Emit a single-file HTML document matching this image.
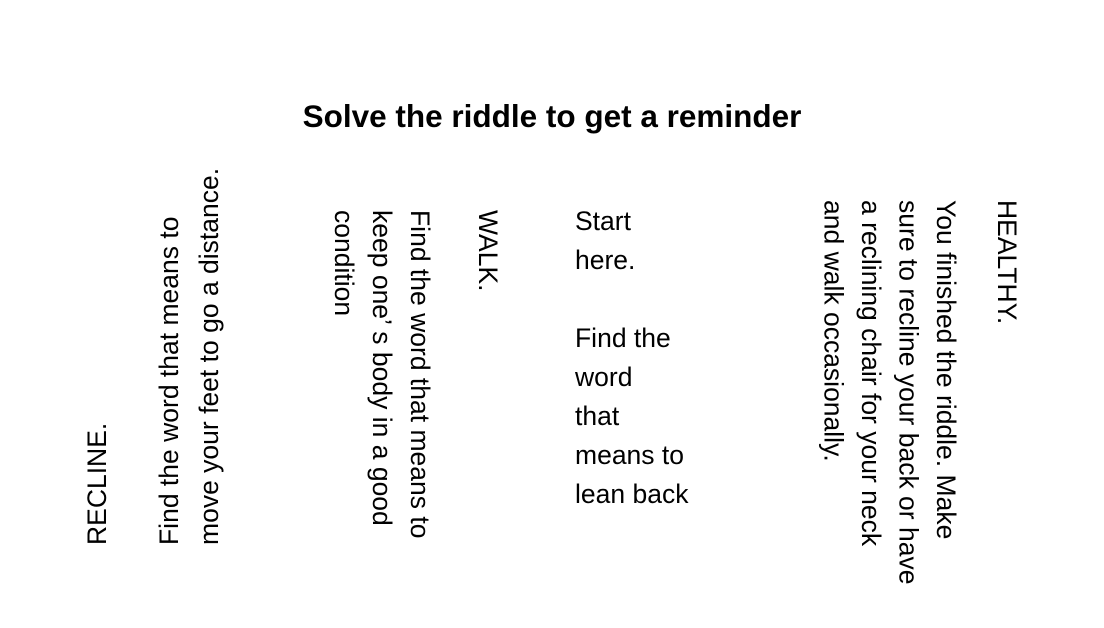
<!DOCTYPE html>
<html>
<head>
<meta charset="utf-8">
<style>
  html,body{margin:0;padding:0;background:#fff;}
  body{width:1104px;height:628px;position:relative;overflow:hidden;font-family:"Liberation Sans",sans-serif;color:#000;}
  .t{position:absolute;font-size:26.5px;white-space:nowrap;}
  .vr{writing-mode:vertical-rl;}
  .vu{writing-mode:vertical-rl;transform:rotate(180deg);}
  h1{position:absolute;left:0;width:1104px;top:96px;margin:0;text-align:center;font-size:31.5px;font-weight:bold;line-height:40px;}
</style>
</head>
<body>
<h1>Solve the riddle to get a reminder</h1>

<div class="t vu" style="left:78px;top:145px;height:400px;width:38px;line-height:38px;">RECLINE.</div>
<div class="t vu" style="left:149px;top:145px;height:400px;width:80px;line-height:40px;">Find the word that means to<br>move your feet to go a distance.</div>

<div class="t vr" style="left:325px;top:210px;width:114px;height:380px;line-height:38px;">Find the word that means to<br>keep one’ s body in a good<br>condition</div>
<div class="t vr" style="left:469px;top:210px;width:38px;height:200px;line-height:38px;">WALK.</div>

<div class="t" style="left:575px;top:202px;line-height:39px;">Start<br>here.<br><br>Find the<br>word<br>that<br>means to<br>lean back</div>

<div class="t vr" style="left:814px;top:200px;width:150px;height:400px;line-height:37.5px;">You finished the riddle. Make<br>sure to recline your back or have<br>a reclining chair for your neck<br>and walk occasionally.</div>
<div class="t vr" style="left:988px;top:200px;width:38px;height:200px;line-height:38px;">HEALTHY.</div>
</body>
</html>
